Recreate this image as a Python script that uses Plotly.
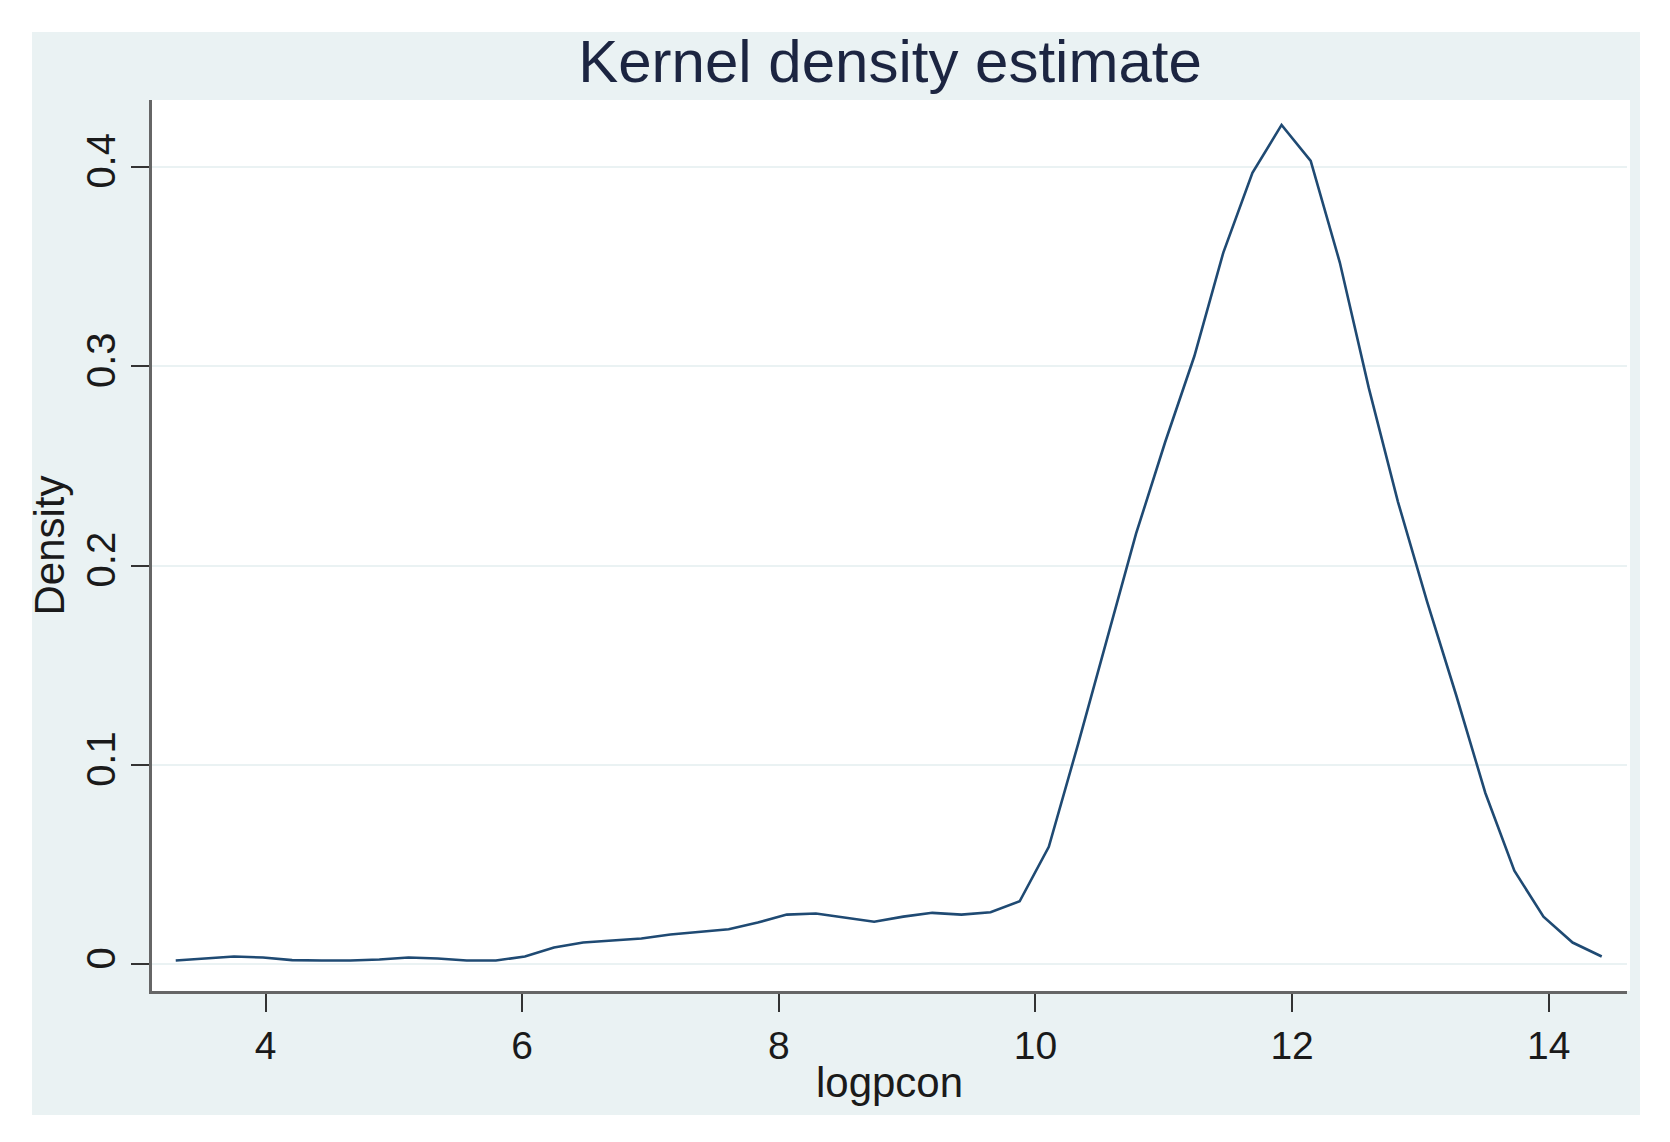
import plotly.graph_objects as go

# Data (50 evaluation points of the KDE)
logpcon = [3.300, 3.527, 3.754, 3.980, 4.207, 4.434, 4.661, 4.887, 5.114, 5.341,
           5.568, 5.795, 6.021, 6.248, 6.475, 6.702, 6.929, 7.155, 7.382, 7.609,
           7.836, 8.062, 8.289, 8.516, 8.743, 8.970, 9.196, 9.423, 9.650, 9.877,
           10.104, 10.330, 10.557, 10.784, 11.011, 11.238, 11.464, 11.691, 11.918, 12.145,
           12.372, 12.598, 12.825, 13.052, 13.279, 13.506, 13.732, 13.959, 14.186, 14.413]
density = [0.0020, 0.0030, 0.0040, 0.0035, 0.0022, 0.0020, 0.0020, 0.0025, 0.0035, 0.0030,
           0.0020, 0.0020, 0.0040, 0.0085, 0.0110, 0.0120, 0.0130, 0.0150, 0.0165, 0.0177,
           0.0210, 0.0250, 0.0256, 0.0235, 0.0214, 0.0240, 0.0259, 0.0250, 0.0262, 0.0317,
           0.0590, 0.1100, 0.1630, 0.2160, 0.2620, 0.3050, 0.3570, 0.3970, 0.4210, 0.4030,
           0.3520, 0.2890, 0.2320, 0.1820, 0.1350, 0.0860, 0.0470, 0.0240, 0.0110, 0.0040]
x_ticks = [4, 6, 8, 10, 12, 14]
y_ticks = [0, 0.1, 0.2, 0.3, 0.4]
y_tick_text = ["0", "0.1", "0.2", "0.3", "0.4"]

title_text = "Kernel density estimate"
x_title = "logpcon"
y_title = "Density"

# The page body has an 8px default margin; page px = figure px + OFF.
OFF = 8
W, H = 1670 - 2 * OFF, 1142 - 2 * OFF
# plot area in page pixels: x 152..1627, y 100..991
PX0, PX1, PY0, PY1 = 152, 1627, 100, 991
L = PX0 - OFF
T = PY0 - OFF
R = W - (PX1 - OFF)
B = H - (PY1 - OFF)
pw, ph = W - L - R, H - T - B

def px_x(p):
    return (p - OFF - L) / pw

def px_y(p):
    return (H - B - (p - OFF)) / ph

BG = "#eaf2f3"
FONT = "Liberation Sans, Arial, sans-serif"

fig = go.Figure()
fig.add_trace(go.Scatter(x=logpcon, y=density, mode="lines",
                         line=dict(color="#1f4a73", width=2.6),
                         showlegend=False, hoverinfo="x+y"))

fig.update_layout(
    width=W, height=H,
    margin=dict(l=L, r=R, t=T, b=B, pad=0),
    paper_bgcolor="white",
    plot_bgcolor="white",
    font=dict(family=FONT, color="#1a1a1a"),
    title=dict(text=title_text, x=(890 - OFF) / W, xanchor="center",
               y=1 - (61 - OFF) / H, yanchor="middle",
               font=dict(family=FONT, size=60, color="#1c2541")),
    shapes=[
        dict(type="rect", xref="paper", yref="paper", layer="below",
             x0=px_x(32), x1=px_x(1640), y0=px_y(1115), y1=px_y(32),
             fillcolor=BG, line=dict(width=0)),
        dict(type="rect", xref="paper", yref="paper", layer="below",
             x0=0, x1=px_x(1630), y0=0, y1=1,
             fillcolor="white", line=dict(width=0)),
    ],
    xaxis=dict(
        range=[3.115, 14.610], tickmode="array", tickvals=x_ticks,
        ticks="outside", ticklen=18, tickwidth=2, tickcolor="#333333",
        showline=True, linecolor="#666666", linewidth=3,
        showgrid=False, zeroline=False,
        tickfont=dict(size=39, color="#1a1a1a"),
        title=dict(text=x_title, font=dict(size=42, color="#1a1a1a"), standoff=2),
    ),
    yaxis=dict(
        range=[-0.01330, 0.4335], tickmode="array", tickvals=y_ticks,
        ticktext=y_tick_text, tickangle=-90,
        ticks="outside", ticklen=18, tickwidth=2, tickcolor="#333333",
        showline=True, linecolor="#666666", linewidth=3,
        showgrid=True, gridcolor=BG, gridwidth=2, zeroline=False,
        tickfont=dict(size=40, color="#1a1a1a"),
        title=dict(text=y_title, font=dict(size=42, color="#1a1a1a"), standoff=2),
    ),
)

fig.write_html("out.html")
